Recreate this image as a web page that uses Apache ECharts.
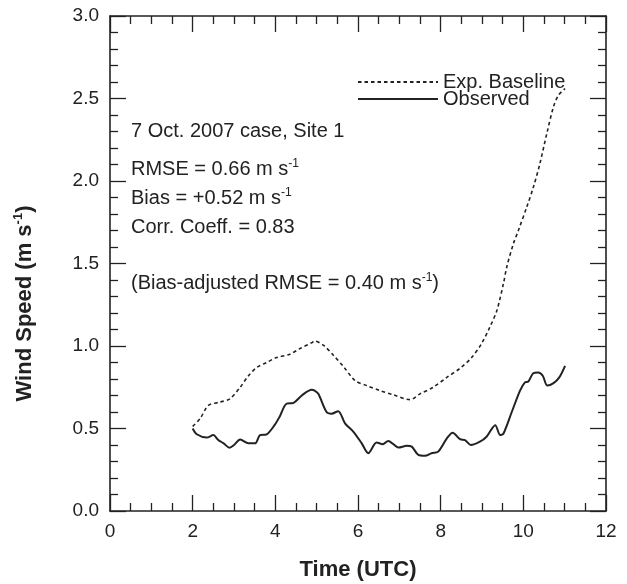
<!DOCTYPE html>
<html>
<head>
<meta charset="utf-8">
<script src="https://cdn.jsdelivr.net/npm/echarts@6/dist/echarts.min.js"></script>
<style>html,body{margin:0;padding:0;background:#fff}#c{width:627px;height:584px}</style>
</head>
<body>
<div id="c"></div>
<script>
// Observed wind speed
var obsT = [2.0,2.1,2.34,2.5,2.62,2.75,2.89,3.0,3.15,3.35,3.51,3.63,3.79,3.98,4.1,4.27,4.44,4.64,4.88,4.95,5.04,5.24,5.36,5.52,5.69,5.89,6.09,6.25,6.45,6.6,6.73,6.98,7.18,7.3,7.46,7.62,7.78,7.94,8.15,8.29,8.47,8.59,8.73,8.95,9.11,9.32,9.44,9.52,9.72,9.92,10.04,10.12,10.24,10.36,10.47,10.58,10.73,10.87,11.01];
var obsV = [0.50,0.465,0.445,0.46,0.43,0.41,0.384,0.40,0.433,0.41,0.41,0.46,0.465,0.52,0.57,0.65,0.655,0.70,0.735,0.73,0.71,0.60,0.59,0.605,0.53,0.48,0.41,0.35,0.415,0.405,0.425,0.385,0.395,0.39,0.34,0.335,0.35,0.36,0.44,0.475,0.435,0.43,0.40,0.42,0.45,0.52,0.46,0.47,0.60,0.73,0.78,0.785,0.835,0.84,0.82,0.76,0.775,0.81,0.88];
// Exp. Baseline
var baseT = [2.0,2.18,2.38,2.66,2.9,3.15,3.35,3.55,3.79,4.03,4.35,4.6,4.88,4.95,5.16,5.4,5.65,5.93,6.21,6.53,6.85,7.26,7.5,7.82,8.15,8.47,8.75,8.99,9.19,9.36,9.52,9.6,9.76,9.88,10.08,10.24,10.4,10.57,10.73,10.85,11.01];
var baseV = [0.513,0.56,0.64,0.66,0.68,0.75,0.82,0.87,0.90,0.93,0.95,0.985,1.02,1.03,1.005,0.945,0.875,0.79,0.76,0.73,0.705,0.675,0.71,0.75,0.81,0.865,0.93,1.015,1.115,1.215,1.38,1.48,1.62,1.70,1.84,1.96,2.105,2.29,2.45,2.52,2.56];
var xTicks = [0,2,4,6,8,10,12];
var yTicks = [0.0,0.5,1.0,1.5,2.0,2.5,3.0];
var notes = ['7 Oct. 2007 case, Site 1', 'RMSE = 0.66 m s{s|-1}', 'Bias = +0.52 m s{s|-1}', 'Corr. Coeff. = 0.83', '(Bias-adjusted RMSE = 0.40 m s{s|-1})'];

function pairs(t, v){ return t.map(function(x,i){ return [x, v[i]]; }); }

var FONT = 'Liberation Sans, Arial, Helvetica, sans-serif';
var INK = '#222';
var chart = echarts.init(document.getElementById('c'));

function xAx(pos, labels){
  return {
    type:'value', position:pos, min:0, max:12, interval:2,
    axisLine:{show:true, onZero:false, lineStyle:{color:INK, width:1.6}},
    axisTick:{show:true, inside:true, length:16, lineStyle:{color:INK, width:1.3}},
    minorTick:{show:true, splitNumber:4, length:8, lineStyle:{color:INK, width:1.3}},
    splitLine:{show:false},
    axisLabel:{show:labels, fontFamily:FONT, fontSize:19, color:INK, margin:11,
      formatter:function(v){ return xTicks.indexOf(v)>=0 ? String(v) : ''; }},
    name: labels ? 'Time (UTC)' : '', nameLocation:'middle', nameGap:48,
    nameTextStyle:{fontFamily:FONT, fontSize:22, fontWeight:'bold', color:INK}
  };
}
function yAx(pos, labels){
  return {
    type:'value', position:pos, min:0, max:3, interval:0.5,
    axisLine:{show:true, onZero:false, lineStyle:{color:INK, width:1.6}},
    axisTick:{show:true, inside:true, length:16, lineStyle:{color:INK, width:1.3}},
    minorTick:{show:true, splitNumber:5, length:8, lineStyle:{color:INK, width:1.3}},
    splitLine:{show:false},
    axisLabel:{show:labels, fontFamily:FONT, fontSize:19, color:INK, margin:11,
      formatter:function(v){ var i = yTicks.indexOf(v); return i>=0 ? yTicks[i].toFixed(1) : ''; }},
    name: labels ? 'Wind Speed (m s{s|-1})' : '', nameLocation:'middle', nameGap:73, nameRotate:90,
    nameTextStyle:{fontFamily:FONT, fontSize:22, fontWeight:'bold', color:INK, padding:[0,80,0,0],
      rich:{s:{fontFamily:FONT, fontSize:13, fontWeight:'bold', color:INK, verticalAlign:'top', lineHeight:25}}}
  };
}

var graphics = [];
var noteY = [131, 169, 198, 227, 283];
notes.forEach(function(n, i){
  graphics.push({
    type:'text', left:131, top:noteY[i]-11,
    style:{text:n, fontFamily:FONT, fontSize:20, fill:INK, lineHeight:22,
      rich:{s:{fontFamily:FONT, fontSize:12, fill:INK, verticalAlign:'top', lineHeight:22}}}
  });
});

chart.setOption({
  animation:false,
  backgroundColor:'#fff',
  grid:{left:110, right:21, top:16, bottom:73, containLabel:false, outerBoundsMode:'none'},
  xAxis:[xAx('bottom', true), xAx('top', false)],
  yAxis:[yAx('left', true), yAx('right', false)],
  legend:{
    orient:'vertical', left:357, top:72, padding:0, itemWidth:80, itemHeight:14, itemGap:-3,
    itemStyle:{opacity:0},
    textStyle:{fontFamily:FONT, fontSize:20, color:INK},
    data:['Exp. Baseline','Observed']
  },
  graphic: graphics,
  series:[
    {name:'Exp. Baseline', type:'line', data:pairs(baseT, baseV), showSymbol:false, symbol:'none', smooth:0.3,
      itemStyle:{color:INK}, lineStyle:{color:INK, width:1.6, type:[3.5,3]}},
    {name:'Observed', type:'line', data:pairs(obsT, obsV), showSymbol:false, symbol:'none', smooth:0.3,
      itemStyle:{color:INK}, lineStyle:{color:INK, width:2}}
  ]
});
</script>
</body>
</html>
